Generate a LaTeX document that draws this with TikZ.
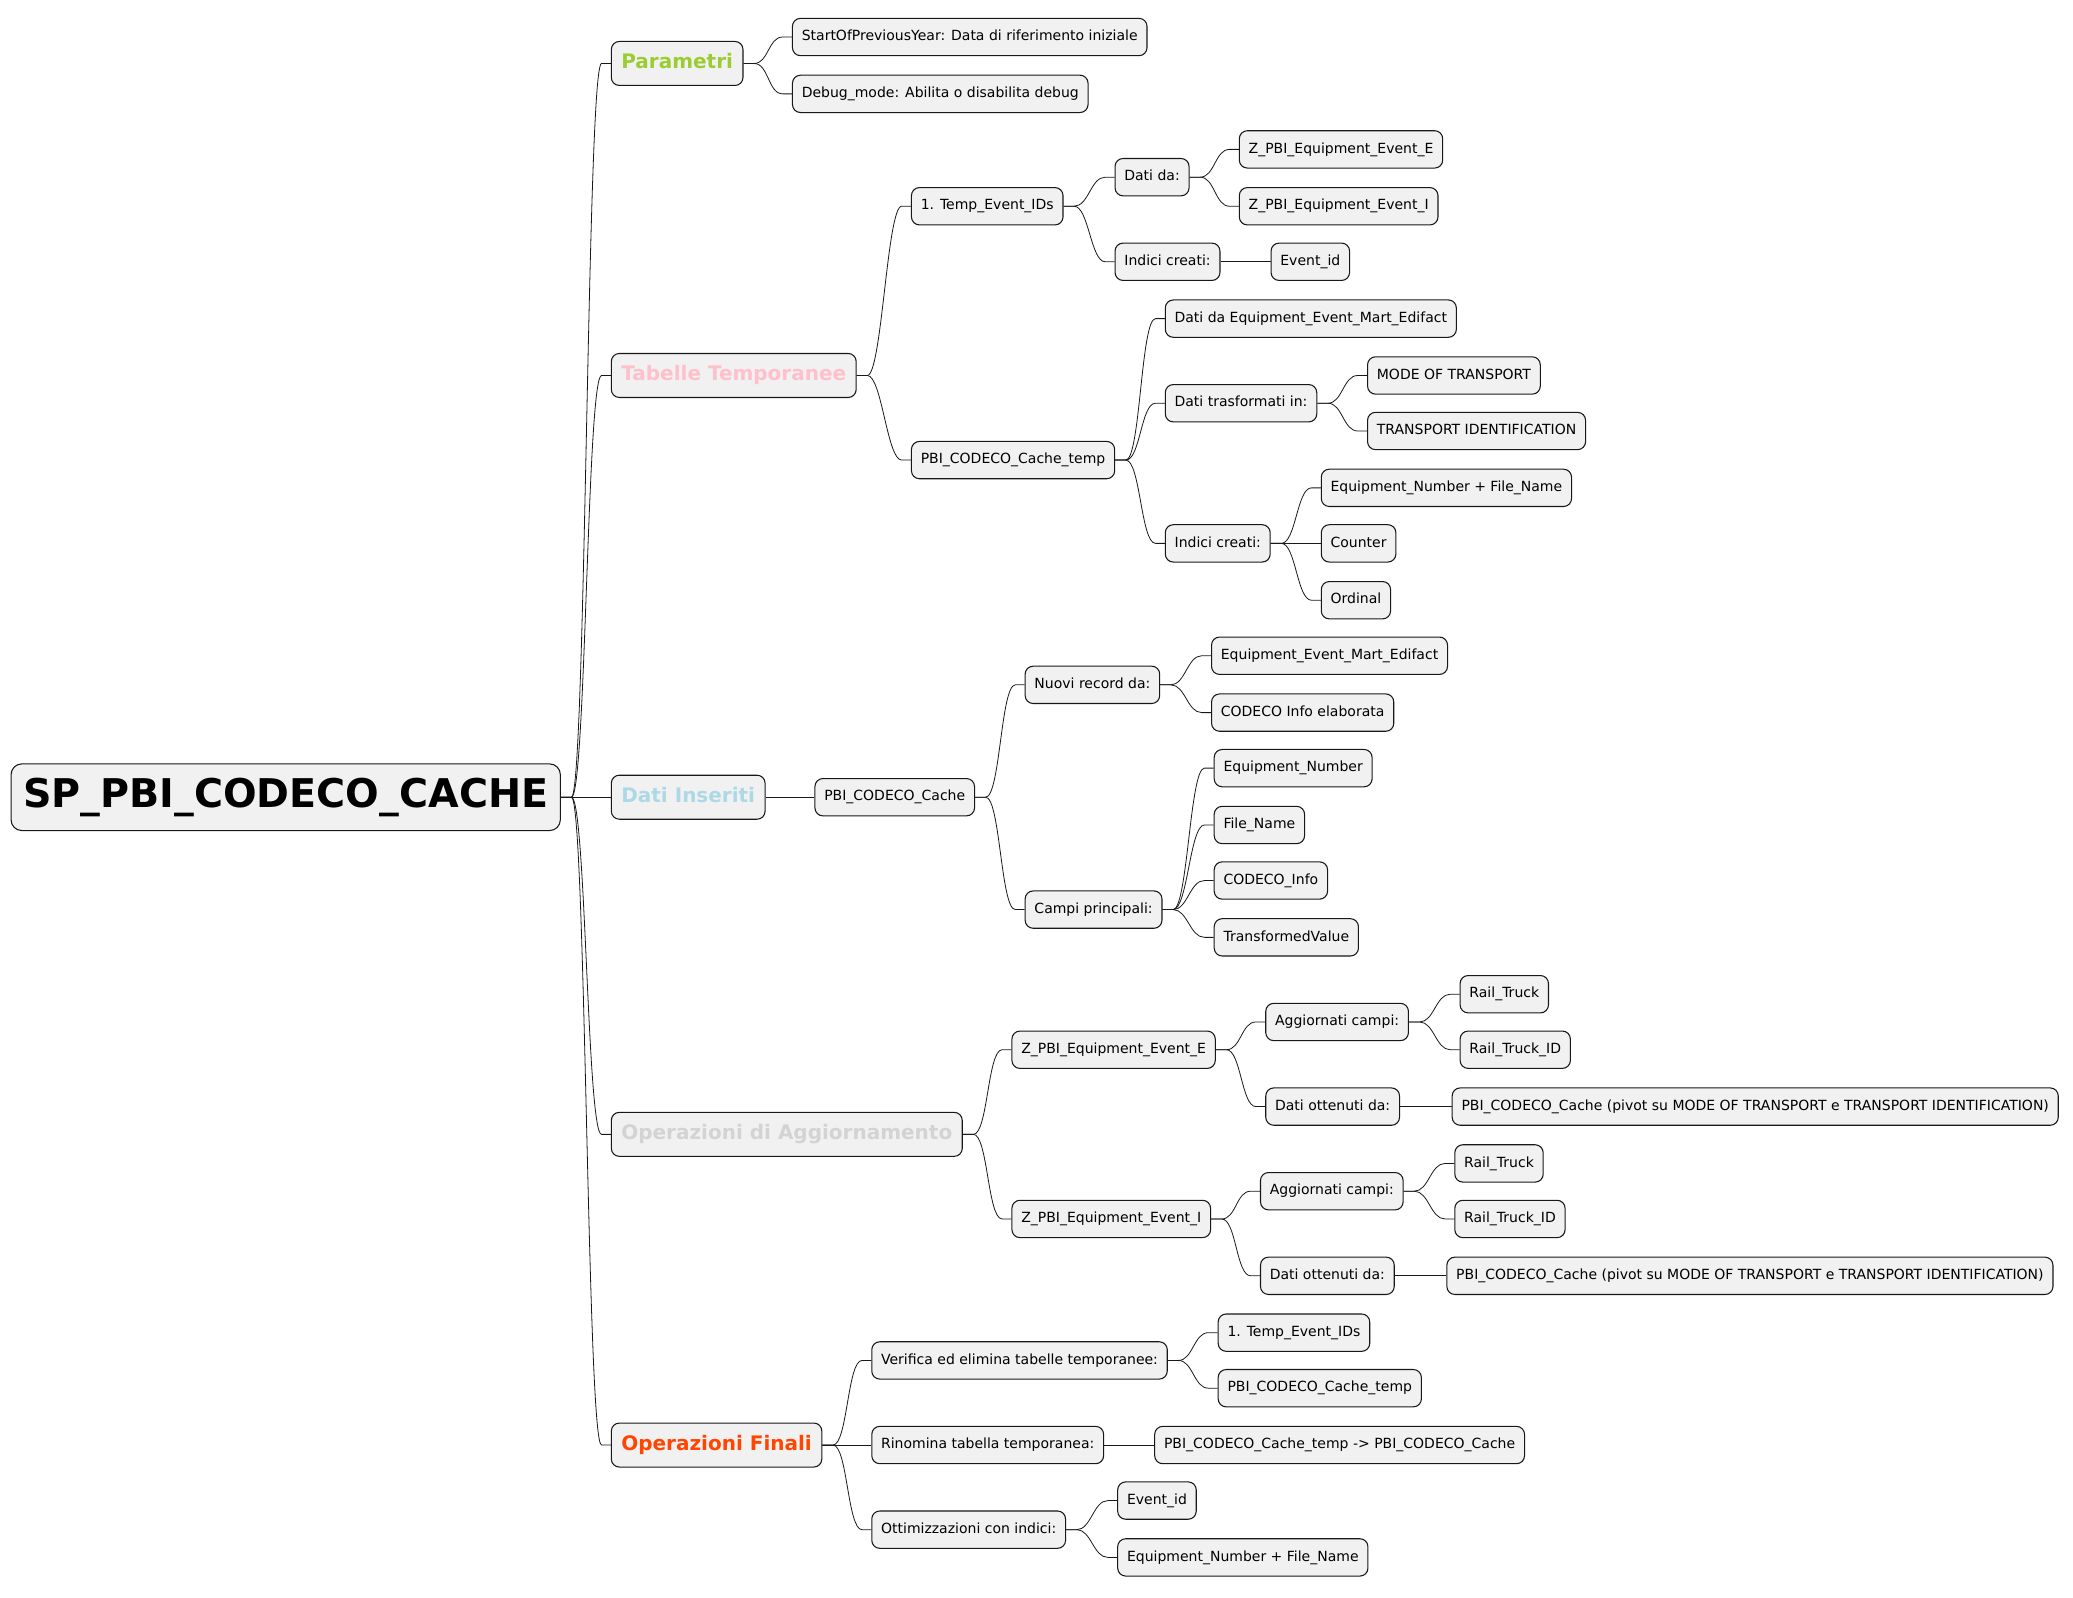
\documentclass[tikz,border=0pt]{standalone}
\usepackage{fontspec}
\setmainfont{DejaVu Sans}
\usepackage{tikz}
\usetikzlibrary{calc}
\definecolor{NodeFill}{HTML}{F1F1F1}
\definecolor{NodeLine}{HTML}{181818}
\definecolor{YellowGreen}{HTML}{9ACD32}
\definecolor{SoftPink}{HTML}{FFC0CB}
\definecolor{LightBlue}{HTML}{ADD8E6}
\definecolor{PaleGray}{HTML}{D3D3D3}
\definecolor{OrangeRed}{HTML}{FF4500}

\begin{document}
\begin{tikzpicture}[
    x=0.99158pt, y=-0.99158pt,
    leaf/.style={draw=NodeLine, fill=NodeFill, rounded corners=6pt, line width=0.8pt,
                 anchor=west, minimum height=28pt, inner xsep=7pt,
                 text height=8pt, text depth=2.5pt,
                 font=\fontsize{10.5}{12.5}\selectfont, text=black},
    topic/.style={leaf, minimum height=33pt, inner xsep=7.5pt,
                  text height=11pt, text depth=3pt,
                  font=\fontsize{15}{18}\selectfont\bfseries},
    core/.style={leaf, minimum height=50pt, inner xsep=9pt, rounded corners=8pt,
                 text height=22pt, text depth=6pt,
                 font=\fontsize{29.7}{36}\selectfont\bfseries},
    link/.style={draw=NodeLine, line width=0.6pt}
]
    \useasboundingbox (0,0) rectangle (1568,1208);

    % Root
    \node[core] (root) at (8,603) {SP\_PBI\_CODECO\_CACHE};

    % Main topics
    \node[topic, text=YellowGreen] (param) at (462,48) {Parametri};
    \node[topic, text=SoftPink] (tabtemp) at (462,284) {Tabelle Temporanee};
    \node[topic, text=LightBlue] (datiins) at (462,603) {Dati Inseriti};
    \node[topic, text=PaleGray] (opagg) at (462,858) {Operazioni di Aggiornamento};
    \node[topic, text=OrangeRed] (opfin) at (462,1093) {Operazioni Finali};

    % Parametri
    \node[leaf] (startprev) at (599,28) {StartOfPreviousYear: Data di riferimento iniziale};
    \node[leaf] (debugmode) at (599,71) {Debug\_mode: Abilita o disabilita debug};

    % Tabelle Temporanee
    \node[leaf] (tempids) at (689,156) {1. Temp\_Event\_IDs};
    \node[leaf] (cachetemp) at (689,348) {PBI\_CODECO\_Cache\_temp};
    \node[leaf] (datida) at (843,134) {Dati da:};
    \node[leaf] (idxa) at (843,198) {Indici creati:};
    \node[leaf] (evE) at (937,113) {Z\_PBI\_Equipment\_Event\_E};
    \node[leaf] (evI) at (937,156) {Z\_PBI\_Equipment\_Event\_I};
    \node[leaf] (eventid) at (961,198) {Event\_id};
    \node[leaf] (datimart) at (881,241) {Dati da Equipment\_Event\_Mart\_Edifact};
    \node[leaf] (datitrasf) at (881,305) {Dati trasformati in:};
    \node[leaf] (idxb) at (881,411) {Indici creati:};
    \node[leaf] (mode) at (1034,284) {MODE OF TRANSPORT};
    \node[leaf] (transid) at (1034,326) {TRANSPORT IDENTIFICATION};
    \node[leaf] (eqfile) at (999,369) {Equipment\_Number + File\_Name};
    \node[leaf] (counter) at (999,411) {Counter};
    \node[leaf] (ordinal) at (999,454) {Ordinal};

    % Dati Inseriti
    \node[leaf] (cache) at (616,603) {PBI\_CODECO\_Cache};
    \node[leaf] (nuovi) at (775,518) {Nuovi record da:};
    \node[leaf] (campi) at (775,688) {Campi principali:};
    \node[leaf] (mart) at (916,496) {Equipment\_Event\_Mart\_Edifact};
    \node[leaf] (info) at (916,539) {CODECO Info elaborata};
    \node[leaf] (eqnum) at (918,581) {Equipment\_Number};
    \node[leaf] (filename) at (918,624) {File\_Name};
    \node[leaf] (codinfo) at (918,666) {CODECO\_Info};
    \node[leaf] (transval) at (918,709) {TransformedValue};

    % Operazioni di Aggiornamento
    \node[leaf] (updE) at (765,794) {Z\_PBI\_Equipment\_Event\_E};
    \node[leaf] (updI) at (765,922) {Z\_PBI\_Equipment\_Event\_I};
    \node[leaf] (aggE) at (957,773) {Aggiornati campi:};
    \node[leaf] (ottE) at (957,837) {Dati ottenuti da:};
    \node[leaf] (truckE) at (1104,752) {Rail\_Truck};
    \node[leaf] (truckidE) at (1104,794) {Rail\_Truck\_ID};
    \node[leaf] (pivotE) at (1098,837) {PBI\_CODECO\_Cache (pivot su MODE OF TRANSPORT e TRANSPORT IDENTIFICATION)};
    \node[leaf] (aggI) at (953,901) {Aggiornati campi:};
    \node[leaf] (ottI) at (953,965) {Dati ottenuti da:};
    \node[leaf] (truckI) at (1100,880) {Rail\_Truck};
    \node[leaf] (truckidI) at (1100,922) {Rail\_Truck\_ID};
    \node[leaf] (pivotI) at (1094,965) {PBI\_CODECO\_Cache (pivot su MODE OF TRANSPORT e TRANSPORT IDENTIFICATION)};

    % Operazioni Finali
    \node[leaf] (verifica) at (659,1029) {Verifica ed elimina tabelle temporanee:};
    \node[leaf] (rinomina) at (659,1093) {Rinomina tabella temporanea:};
    \node[leaf] (ottim) at (659,1157) {Ottimizzazioni con indici:};
    \node[leaf] (delids) at (921,1008) {1. Temp\_Event\_IDs};
    \node[leaf] (deltemp) at (921,1050) {PBI\_CODECO\_Cache\_temp};
    \node[leaf] (rename) at (873,1093) {PBI\_CODECO\_Cache\_temp -> PBI\_CODECO\_Cache};
    \node[leaf] (optid) at (845,1135) {Event\_id};
    \node[leaf] (optfile) at (845,1178) {Equipment\_Number + File\_Name};

    % Branches
    \foreach \p/\c in {root/param, root/tabtemp, root/datiins, root/opagg, root/opfin,
                       param/startprev, param/debugmode,
                       tabtemp/tempids, tabtemp/cachetemp,
                       tempids/datida, tempids/idxa, datida/evE, datida/evI, idxa/eventid,
                       cachetemp/datimart, cachetemp/datitrasf, cachetemp/idxb,
                       datitrasf/mode, datitrasf/transid,
                       idxb/eqfile, idxb/counter, idxb/ordinal,
                       datiins/cache, cache/nuovi, cache/campi,
                       nuovi/mart, nuovi/info,
                       campi/eqnum, campi/filename, campi/codinfo, campi/transval,
                       opagg/updE, opagg/updI,
                       updE/aggE, updE/ottE, aggE/truckE, aggE/truckidE, ottE/pivotE,
                       updI/aggI, updI/ottI, aggI/truckI, aggI/truckidI, ottI/pivotI,
                       opfin/verifica, opfin/rinomina, opfin/ottim,
                       verifica/delids, verifica/deltemp, rinomina/rename,
                       ottim/optid, ottim/optfile}
        \draw[link] (\p.east) -- ++(8,0) .. controls +(11,0) and +(-11,0) .. ($(\c.west)+(-7,0)$) -- (\c.west);
\end{tikzpicture}
\end{document}
